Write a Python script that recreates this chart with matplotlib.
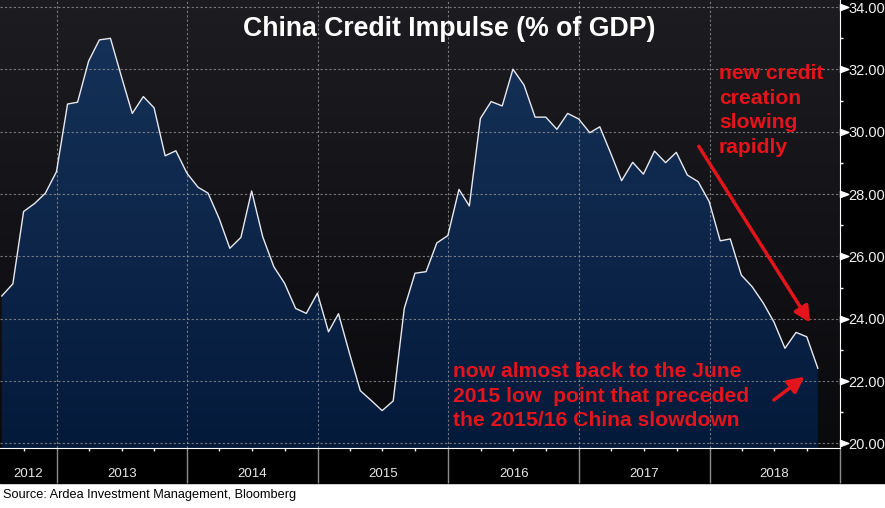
import numpy as np
import matplotlib
matplotlib.use('Agg')
import matplotlib.pyplot as plt
import matplotlib.dates as mdates
from matplotlib.patches import Rectangle
from matplotlib.path import Path
from matplotlib.colors import LinearSegmentedColormap
from matplotlib.transforms import blended_transform_factory

# monthly credit impulse, end of month, Jul 2012 .. Oct 2018
months = np.arange('2012-08', '2018-12', dtype='datetime64[M]')
dates = months.astype('datetime64[D]') - 1
impulse = [24.73, 25.12, 27.44, 27.70, 28.03, 28.72, 30.89, 30.95, 32.27, 32.95,
           33.00, 31.80, 30.59, 31.13, 30.77, 29.23, 29.39, 28.67, 28.22, 28.03,
           27.22, 26.26, 26.61, 28.10, 26.63, 25.67, 25.14, 24.33, 24.17, 24.82,
           23.58, 24.16, 22.88, 21.69, 21.37, 21.05, 21.36, 24.33, 25.46, 25.51,
           26.43, 26.67, 28.15, 27.62, 30.43, 30.97, 30.83, 32.01, 31.50, 30.47,
           30.47, 30.08, 30.59, 30.41, 29.97, 30.16, 29.30, 28.43, 29.02, 28.64,
           29.38, 29.01, 29.34, 28.61, 28.40, 27.76, 26.50, 26.56, 25.40, 25.03,
           24.51, 23.90, 23.05, 23.56, 23.42, 22.41]
years = [2012, 2013, 2014, 2015, 2016, 2017, 2018]
yticks = [20, 22, 24, 26, 28, 30, 32, 34]

title = 'China Credit Impulse (% of GDP)'
note_top = 'new credit\ncreation\nslowing\nrapidly'
note_bottom = 'now almost back to the June\n2015 low  point that preceded\nthe 2015/16 China slowdown'
source = 'Source: Ardea Investment Management, Bloomberg'

RED = '#e3141b'
x0, x1 = np.datetime64('2012-07-26'), np.datetime64('2019-01-01')
y0, y1 = 19.85, 34.23

fig = plt.figure(figsize=(8.85, 5.08), dpi=100, facecolor='white')
fig.add_artist(Rectangle((0, 25/508), 1, 1, transform=fig.transFigure,
                         color='black', zorder=-5))
ax = fig.add_axes([0, 60/508, 840/885, 448/508])
ax.patch.set_visible(False)

# background gradient
bg = LinearSegmentedColormap.from_list('bg', ['#0a0a0d', '#1d1c21'])
ax.imshow(np.linspace(0, 1, 256).reshape(-1, 1), cmap=bg, origin='lower',
          extent=[0, 1, 0, 1], transform=ax.transAxes, aspect='auto', zorder=0)

# area fill with vertical gradient, clipped to the series
fill = ax.fill_between(dates, impulse, y0, facecolor='none', edgecolor='none')
fc = LinearSegmentedColormap.from_list('fc', ['#041a3b', '#17335a'])
xn0, xn1 = mdates.date2num(x0), mdates.date2num(x1)
im = ax.imshow(np.linspace(0, 1, 256).reshape(-1, 1), cmap=fc, origin='lower',
               extent=[xn0, xn1, y0, y1], aspect='auto', zorder=1)
im.set_clip_path(fill.get_paths()[0], transform=ax.transData)
ax.plot(dates, impulse, color='#e8e8ee', lw=1.0, zorder=3)

ax.set_xlim(x0, x1)
ax.set_ylim(y0, y1)

# grid
for y in yticks:
    ax.axhline(y, color='#9a9a9a', lw=0.8, ls=(0, (2, 2)), alpha=0.75, zorder=2)
for yr in years[1:]:
    ax.axvline(np.datetime64(f'{yr}-01-01'), color='#9a9a9a', lw=0.8,
               ls=(0, (2, 2)), alpha=0.75, zorder=2)

# spines
for s in ['top', 'left']:
    ax.spines[s].set_visible(False)
ax.spines['bottom'].set_color('white')
ax.spines['right'].set_color('white')
ax.spines['bottom'].set_zorder(4)

# x axis: year separators, quarter ticks, year labels
ax.xaxis.set_major_locator(mdates.YearLocator())
ax.xaxis.set_minor_locator(mdates.MonthLocator(bymonth=[4, 7, 10]))
ax.xaxis.set_major_formatter(plt.NullFormatter())
ax.tick_params(axis='x', which='major', length=25, width=1, color='#8c8c8c')
ax.tick_params(axis='x', which='minor', length=2.5, width=1, color='white')
trans = blended_transform_factory(ax.transData, ax.transAxes)
for yr in years:
    a = max(np.datetime64(f'{yr}-01-01'), x0)
    b = min(np.datetime64(f'{yr + 1}-01-01'), x1)
    mid = a + (b - a) / 2
    ax.text(mid, -0.058, str(yr), transform=trans, ha='center', va='center',
            color='#e6e6e6', fontsize=9.5, family='Liberation Sans')

# y axis on the right
ax.yaxis.tick_right()
ax.set_yticks(yticks)
ax.set_yticks(np.arange(21, 34, 2), minor=True)
ax.set_yticklabels(['%.2f' % v for v in yticks])
ax.tick_params(axis='y', which='major', length=0, pad=6, labelcolor='#f0f0f0',
               labelsize=10.5)
ax.tick_params(axis='y', which='minor', length=2.5, width=1, color='white')
for lab in ax.get_yticklabels():
    lab.set_family('Liberation Sans')
tri = Path([(0, -0.6), (1.6, 0), (0, 0.6), (0, -0.6)])
ytrans = blended_transform_factory(ax.transAxes, ax.transData)
ax.plot([1.0] * len(yticks), yticks, ls='none', marker=tri, markersize=12,
        color='white', transform=ytrans, clip_on=False, zorder=5)

# title and annotations
fig.text(449/885, 1 - 29/508, title, ha='center', va='center', color='white',
         fontsize=19.2, fontweight='bold', family='Liberation Sans')
ax.text(719/840, 1 - 64/448, note_top, transform=ax.transAxes, ha='left', va='top',
        color=RED, fontsize=15.2, fontweight='bold', family='Liberation Sans',
        linespacing=1.37, zorder=6)
ax.text(453/840, 1 - 362/448, note_bottom, transform=ax.transAxes, ha='left',
        va='top', color=RED, fontsize=15.2, fontweight='bold',
        family='Liberation Sans', linespacing=1.37, zorder=6)
ax.annotate('', xy=(811.7/840, 1 - 325/448), xytext=(697.3/840, 1 - 144/448),
            xycoords='axes fraction', textcoords='axes fraction',
            arrowprops=dict(arrowstyle='-|>', color=RED, lw=2.5, mutation_scale=24),
            zorder=6)
ax.annotate('', xy=(806.7/840, 1 - 375/448), xytext=(771.7/840, 1 - 401.7/448),
            xycoords='axes fraction', textcoords='axes fraction',
            arrowprops=dict(arrowstyle='-|>', color=RED, lw=2.5, mutation_scale=24),
            zorder=6)

fig.text(3/885, 1 - 495/508, source, ha='left', va='center', color='black',
         fontsize=9.2, family='Liberation Sans')

plt.savefig('out.png', dpi=100, facecolor=fig.get_facecolor())
